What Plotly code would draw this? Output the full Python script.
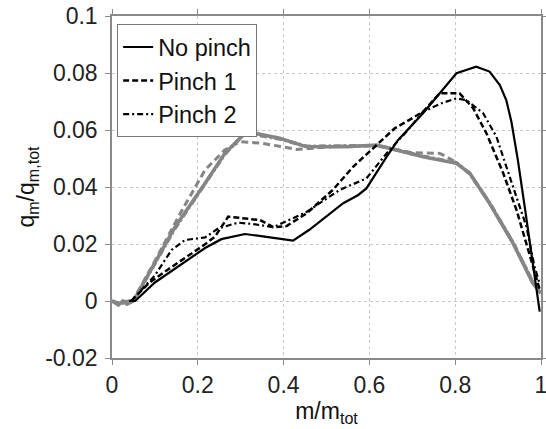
import plotly.graph_objects as go

# Black series (legend)
x_nopinch = [0.04, 0.054, 0.10, 0.17, 0.217, 0.255, 0.31, 0.36, 0.422, 0.46, 0.5, 0.539, 0.574, 0.593, 0.64, 0.667, 0.725, 0.764, 0.803, 0.849, 0.88, 0.904, 0.919, 0.931, 0.946, 0.962, 0.98, 0.997]
y_nopinch = [0, 0, 0.0065, 0.0138, 0.0186, 0.0217, 0.0235, 0.0225, 0.0212, 0.025, 0.0296, 0.0343, 0.0372, 0.0395, 0.0506, 0.0565, 0.0659, 0.0729, 0.0799, 0.0822, 0.0805, 0.0758, 0.0705, 0.0629, 0.0495, 0.0331, 0.015, -0.0037]

x_pinch1 = [0.045, 0.085, 0.13, 0.17, 0.217, 0.24, 0.271, 0.325, 0.345, 0.376, 0.407, 0.454, 0.515, 0.562, 0.609, 0.659, 0.679, 0.725, 0.764, 0.81, 0.842, 0.873, 0.912, 0.943, 0.97, 0.989, 0.997]
y_pinch1 = [0, 0.0062, 0.011, 0.015, 0.0199, 0.0226, 0.0296, 0.0287, 0.0284, 0.0259, 0.0263, 0.0308, 0.039, 0.0471, 0.0536, 0.0606, 0.0623, 0.0664, 0.0729, 0.0729, 0.0676, 0.0588, 0.0448, 0.0319, 0.018, 0.008, 0.004]

x_pinch2 = [0.045, 0.069, 0.1, 0.139, 0.17, 0.217, 0.248, 0.294, 0.329, 0.376, 0.454, 0.531, 0.593, 0.64, 0.69, 0.725, 0.77, 0.803, 0.826, 0.865, 0.896, 0.927, 0.966, 0.985, 0.997]
y_pinch2 = [0, 0.0039, 0.009, 0.0179, 0.0214, 0.0223, 0.0255, 0.0275, 0.027, 0.0259, 0.0313, 0.039, 0.043, 0.0518, 0.06, 0.0664, 0.0695, 0.0711, 0.0705, 0.0659, 0.0577, 0.0436, 0.0261, 0.012, 0.006]

# Grey series (no legend)
x_grey_solid = [0, 0.015, 0.025, 0.035, 0.05, 0.147, 0.217, 0.263, 0.314, 0.391, 0.454, 0.547, 0.617, 0.648, 0.725, 0.803, 0.834, 0.88, 0.935, 0.981, 1.0]
y_grey_solid = [0, -0.0014, 0, -0.0011, 0, 0.026, 0.0413, 0.0518, 0.0594, 0.0571, 0.0541, 0.0541, 0.0547, 0.0536, 0.0506, 0.0483, 0.0448, 0.0343, 0.0202, 0.0062, 0.0027]

x_grey_dash = [0, 0.015, 0.03, 0.045, 0.1, 0.16, 0.217, 0.263, 0.298, 0.352, 0.43, 0.469, 0.55, 0.62, 0.7, 0.764, 0.78, 0.803, 0.834, 0.88, 0.935, 0.981, 1.0]
y_grey_dash = [0, -0.001, 0, -0.0008, 0.014, 0.031, 0.046, 0.053, 0.0559, 0.0553, 0.0532, 0.0536, 0.0545, 0.0545, 0.052, 0.0518, 0.0506, 0.0485, 0.0448, 0.0345, 0.0205, 0.0068, 0.0035]

x_grey_dashdot = [0, 0.02, 0.04, 0.05, 0.147, 0.217, 0.263, 0.31, 0.391, 0.454, 0.547, 0.617, 0.648, 0.725, 0.803, 0.834, 0.88, 0.935, 0.981, 1.0]
y_grey_dashdot = [0, -0.001, 0, 0, 0.0255, 0.041, 0.0515, 0.059, 0.0568, 0.0543, 0.0543, 0.0545, 0.0535, 0.0508, 0.0485, 0.0446, 0.0345, 0.0205, 0.0065, 0.003]

x_ticks = [0, 0.2, 0.4, 0.6, 0.8, 1]
y_ticks = [-0.02, 0, 0.02, 0.04, 0.06, 0.08, 0.1]
x_tick_labels = ["0", "0.2", "0.4", "0.6", "0.8", "1"]
y_tick_labels = ["-0.02", "0", "0.02", "0.04", "0.06", "0.08", "0.1"]

GREY = "#858585"
FONT = "Liberation Sans, Arial, sans-serif"

fig = go.Figure()
fig.add_trace(go.Scatter(x=x_grey_dashdot, y=y_grey_dashdot, mode="lines", showlegend=False,
                         line=dict(color=GREY, width=3.5, dash="7px,3px,2px,3px")))
fig.add_trace(go.Scatter(x=x_grey_dash, y=y_grey_dash, mode="lines", showlegend=False,
                         line=dict(color=GREY, width=3, dash="7px,4px")))
fig.add_trace(go.Scatter(x=x_grey_solid, y=y_grey_solid, mode="lines", showlegend=False,
                         line=dict(color=GREY, width=3.5)))

fig.add_trace(go.Scatter(x=x_nopinch, y=y_nopinch, mode="lines", name="No pinch",
                         line=dict(color="black", width=2.2)))
fig.add_trace(go.Scatter(x=x_pinch1, y=y_pinch1, mode="lines", name="Pinch 1",
                         line=dict(color="black", width=2.5, dash="6px,3px")))
fig.add_trace(go.Scatter(x=x_pinch2, y=y_pinch2, mode="lines", name="Pinch 2",
                         line=dict(color="black", width=2.2, dash="6px,3px,2px,3px")))

axis_common = dict(
    showline=True, linecolor="#8a8a8a", linewidth=1.5, mirror="ticks",
    ticks="outside", ticklen=5, tickcolor="#8a8a8a", tickwidth=1,
    showgrid=True, gridcolor="#c8c8c8", griddash="dot", gridwidth=1,
    zeroline=False, tickfont=dict(size=23, color="#222", family=FONT),
    automargin=False, ticklabeloverflow="allow",
)

fig.update_layout(
    width=546, height=429,
    margin=dict(l=112, r=5, t=16, b=71),
    paper_bgcolor="white", plot_bgcolor="white",
    font=dict(family=FONT, color="#111"),
    xaxis=dict(range=[0, 1], tickvals=x_ticks, ticktext=x_tick_labels, ticklabelstandoff=1,
               title=dict(text="m/m<sub>tot</sub>", font=dict(size=23, family=FONT, color="#111"), standoff=0),
               **axis_common),
    yaxis=dict(range=[-0.02, 0.1], tickvals=y_ticks, ticktext=y_tick_labels, ticklabelstandoff=3,
               title=dict(text="q<sub>m</sub>/q<sub>m,tot</sub>", font=dict(size=23, family=FONT, color="#111"), standoff=4),
               **axis_common),
    legend=dict(x=0.012, y=0.976, xanchor="left", yanchor="top",
                bgcolor="white", bordercolor="#777", borderwidth=1,
                font=dict(size=23.5, family=FONT, color="#111"),
                tracegroupgap=0, itemwidth=30),
)

# Remove the page's default body margin so the figure sits at the window's corner.
fig.write_html("out.html", config={"displayModeBar": False},
               post_script="document.body.style.margin='0';document.body.style.overflow='hidden';")
